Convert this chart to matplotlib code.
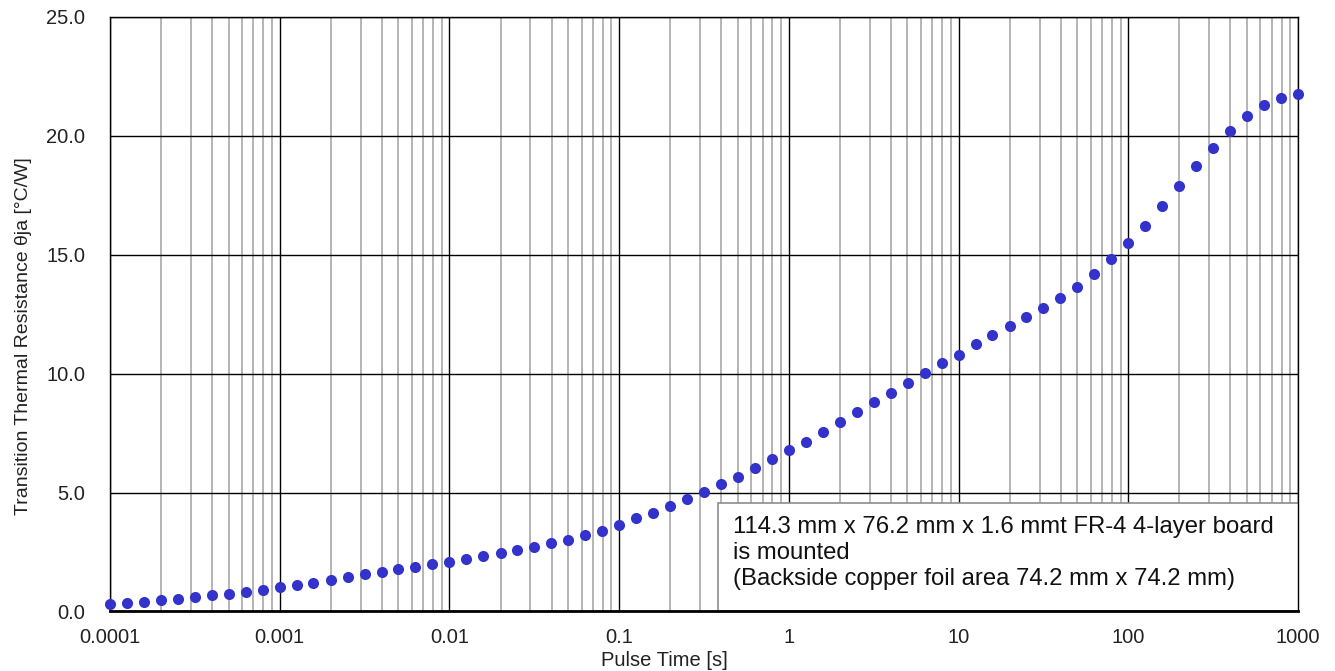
import matplotlib
matplotlib.use("Agg")
import matplotlib.pyplot as plt
from matplotlib.ticker import LogLocator, FixedLocator, FixedFormatter, NullFormatter
from matplotlib.patches import Rectangle

plt.rcParams['font.family'] = ['Liberation Sans', 'DejaVu Sans']

# pulse time [s], 10 points per decade
pulse_time = [
    1e-4, 1.26e-4, 1.58e-4, 2e-4, 2.51e-4, 3.16e-4, 3.98e-4, 5.01e-4, 6.31e-4, 7.94e-4,
    1e-3, 1.26e-3, 1.58e-3, 2e-3, 2.51e-3, 3.16e-3, 3.98e-3, 5.01e-3, 6.31e-3, 7.94e-3,
    1e-2, 1.26e-2, 1.58e-2, 2e-2, 2.51e-2, 3.16e-2, 3.98e-2, 5.01e-2, 6.31e-2, 7.94e-2,
    1e-1, 1.26e-1, 1.58e-1, 2e-1, 2.51e-1, 3.16e-1, 3.98e-1, 5.01e-1, 6.31e-1, 7.94e-1,
    1.0, 1.26, 1.58, 2.0, 2.51, 3.16, 3.98, 5.01, 6.31, 7.94,
    10.0, 12.6, 15.8, 20.0, 25.1, 31.6, 39.8, 50.1, 63.1, 79.4,
    100.0, 126.0, 158.0, 200.0, 251.0, 316.0, 398.0, 501.0, 631.0, 794.0,
    1000.0,
]

# transition thermal resistance theta-ja [degC/W]
theta_ja = [
    0.32, 0.36, 0.40, 0.48, 0.53, 0.61, 0.69, 0.74, 0.82, 0.90,
    1.03, 1.11, 1.20, 1.33, 1.45, 1.58, 1.66, 1.79, 1.87, 2.00,
    2.10, 2.21, 2.33, 2.46, 2.57, 2.73, 2.87, 3.02, 3.22, 3.40,
    3.64, 3.92, 4.13, 4.45, 4.72, 5.03, 5.36, 5.67, 6.04, 6.42,
    6.77, 7.14, 7.56, 7.96, 8.38, 8.81, 9.19, 9.61, 10.03, 10.43,
    10.80, 11.24, 11.62, 12.00, 12.39, 12.77, 13.19, 13.65, 14.19, 14.82,
    15.50, 16.23, 17.07, 17.89, 18.74, 19.51, 20.20, 20.82, 21.28, 21.58,
    21.77,
]

x_ticks = [1e-4, 1e-3, 1e-2, 1e-1, 1, 10, 100, 1000]
x_labels = ['0.0001', '0.001', '0.01', '0.1', '1', '10', '100', '1000']
y_ticks = [0, 5, 10, 15, 20, 25]
y_labels = ['0.0', '5.0', '10.0', '15.0', '20.0', '25.0']

note = ("114.3 mm x 76.2 mm x 1.6 mmt FR-4 4-layer board\n"
        "is mounted\n"
        "(Backside copper foil area 74.2 mm x 74.2 mm)")

fig = plt.figure(figsize=(13.35, 6.71), dpi=100)
ax = fig.add_axes([0.0824, 0.0887, 0.8899, 0.886])

ax.plot(pulse_time, theta_ja, 'o', color='#3333cc', markersize=8,
        markeredgewidth=0, zorder=3, clip_on=False)

ax.set_xscale('log')
ax.set_xlim(1e-4, 1000)
ax.set_ylim(0, 25)

ax.xaxis.set_major_locator(FixedLocator(x_ticks))
ax.xaxis.set_major_formatter(FixedFormatter(x_labels))
ax.xaxis.set_minor_locator(LogLocator(base=10, subs=range(2, 10), numticks=20))
ax.xaxis.set_minor_formatter(NullFormatter())
ax.set_yticks(y_ticks)
ax.set_yticklabels(y_labels)

ax.set_axisbelow(True)
ax.grid(which='major', axis='both', color='black', linewidth=1.0)
ax.grid(which='minor', axis='x', color='#a8a8a8', linewidth=1.2)

ax.tick_params(which='major', length=0, labelsize=14.5, colors='#222222')
ax.tick_params(axis='x', pad=12)
ax.tick_params(axis='y', pad=18)
ax.tick_params(which='minor', length=0)

for s in ax.spines.values():
    s.set_color('black')
    s.set_linewidth(1.0)
ax.spines['bottom'].set_linewidth(2.0)

ax.set_xlabel('Pulse Time [s]', fontsize=14.5, color='#222222')
ax.xaxis.set_label_coords(0.467, -0.066)
ax.set_ylabel('Transition Thermal Resistance θja [°C/W]', fontsize=14, color='#222222')
ax.yaxis.set_label_coords(-0.0657, 0.464)

box = Rectangle((0.512, 0.0), 0.49, 0.183, transform=ax.transAxes,
                facecolor='white', edgecolor='#8c8c8c', linewidth=1.2, zorder=2)
ax.add_patch(box)
ax.text(0.524, 0.098, note, transform=ax.transAxes, fontsize=17.2,
        va='center', ha='left', linespacing=1.22, zorder=2.1, color='#111111')

fig.savefig('out.png', dpi=100)
